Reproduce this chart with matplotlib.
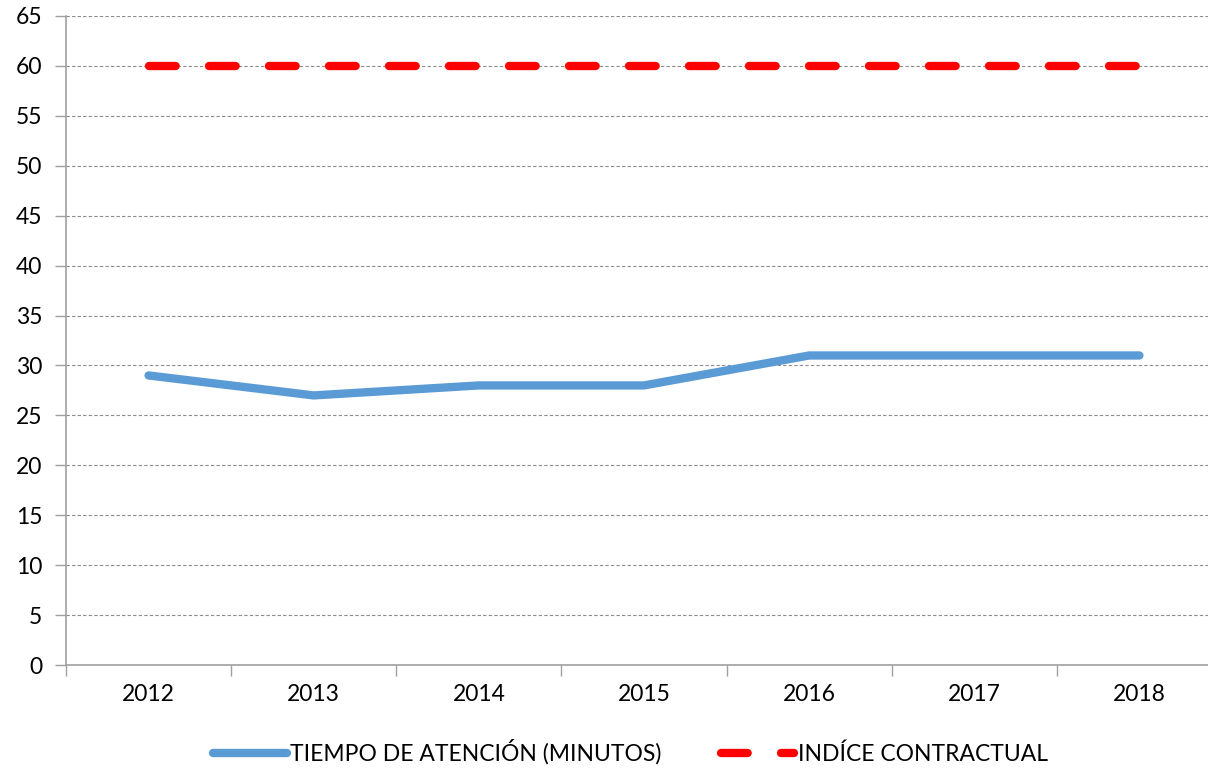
import matplotlib
matplotlib.use("Agg")
import matplotlib.pyplot as plt
import numpy as np

years = ["2012", "2013", "2014", "2015", "2016", "2017", "2018"]
tiempo = [29, 27, 28, 28, 31, 31, 31]
indice = [60, 60, 60, 60, 60, 60, 60]
yticks = list(range(0, 70, 5))

plt.rcParams['font.family'] = ['Lato', 'DejaVu Sans']

fig = plt.figure(figsize=(12.08, 7.7), dpi=100)
ax = fig.add_axes([66/1208, 1-665/770, (1222-66)/1208, (665-16)/770])

x = np.arange(len(years))
ax.plot(x, tiempo, color='#5b9bd5', lw=6, solid_capstyle='round', solid_joinstyle='round',
        label='TIEMPO DE ATENCIÓN (MINUTOS)', zorder=3)
ax.plot(x, indice, color='#ff0000', lw=6, dash_capstyle='round',
        dashes=(3.2, 4.0), label='INDÍCE CONTRACTUAL', zorder=3)

ax.set_xlim(-0.5, len(years) - 0.5)
ax.set_ylim(0, 65)
ax.set_yticks(yticks)
ax.set_yticklabels([str(v) for v in yticks])
ax.yaxis.grid(True, color='#8c8c8c', linestyle=(0, (3, 2)), lw=0.8)
ax.set_axisbelow(True)

ax.set_xticks(np.arange(-0.5, len(years), 1.0))
ax.set_xticklabels([])
ax.set_xticks(x, minor=True)
ax.set_xticklabels(years, minor=True)
ax.tick_params(axis='x', which='major', length=8, color='#a0a0a0', width=1)
ax.tick_params(axis='x', which='minor', length=0, pad=14, labelsize=16.5)
ax.tick_params(axis='y', length=8, color='#a0a0a0', width=1, labelsize=16.5, pad=9)

for s in ['top', 'right']:
    ax.spines[s].set_visible(False)
for s in ['left', 'bottom']:
    ax.spines[s].set_color('#a0a0a0')
    ax.spines[s].set_linewidth(1.2)

leg = fig.legend(loc='center', bbox_to_anchor=(0.522, 1-752/770), ncol=2, frameon=False,
                 fontsize=16.5, handlelength=3.2, handletextpad=0.15, columnspacing=2.6)

fig.savefig("out.png", dpi=100)
